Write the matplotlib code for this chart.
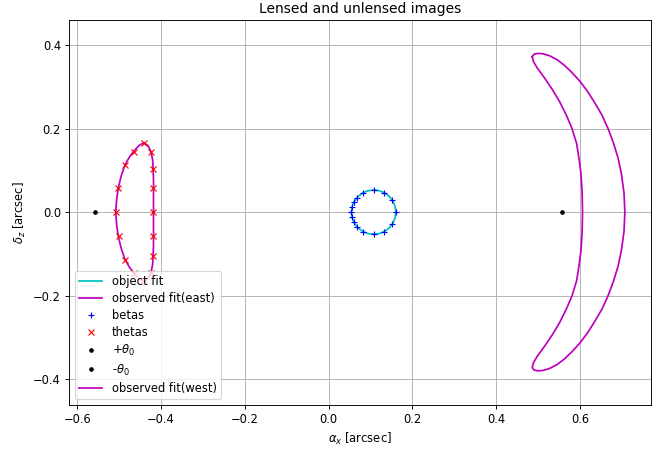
import matplotlib
matplotlib.use("Agg")
import matplotlib.pyplot as plt

# source circle (object fit)
obj_x = [0.1605, 0.1587, 0.1534, 0.1450, 0.1340, 0.1212, 0.1075, 0.0938, 0.0810,
         0.0700, 0.0616, 0.0563, 0.0545, 0.0563, 0.0616, 0.0700, 0.0810, 0.0938,
         0.1075, 0.1212, 0.1340, 0.1450, 0.1534, 0.1587, 0.1605]
obj_y = [0.0, 0.0137, 0.0265, 0.0375, 0.0459, 0.0512, 0.0530, 0.0512, 0.0459,
         0.0375, 0.0265, 0.0137, 0.0, -0.0137, -0.0265, -0.0375, -0.0459, -0.0512,
         -0.0530, -0.0512, -0.0459, -0.0375, -0.0265, -0.0137, 0.0]

# east image outline
east_x = [-0.418, -0.418, -0.418, -0.418, -0.419, -0.420, -0.424, -0.431, -0.441,
          -0.452, -0.465, -0.476, -0.486, -0.495, -0.502, -0.506, -0.508,
          -0.506, -0.502, -0.495, -0.486, -0.476, -0.465, -0.452, -0.441,
          -0.431, -0.424, -0.420, -0.419, -0.418, -0.418, -0.418, -0.418]
east_y = [0.0, 0.030, 0.058, 0.080, 0.104, 0.125, 0.145, 0.159, 0.166,
          0.160, 0.146, 0.131, 0.113, 0.087, 0.058, 0.030, 0.0,
          -0.030, -0.058, -0.087, -0.113, -0.131, -0.146, -0.160, -0.166,
          -0.159, -0.145, -0.125, -0.104, -0.080, -0.058, -0.030, 0.0]

# source points
beta_x = [0.1605, 0.1514, 0.1324, 0.1075, 0.0826, 0.0675, 0.0603, 0.0561,
          0.0545, 0.0561, 0.0603, 0.0675, 0.0826, 0.1075, 0.1324, 0.1514]
beta_y = [0.0, 0.0296, 0.0468, 0.0530, 0.0468, 0.0348, 0.0241, 0.0128,
          0.0, -0.0128, -0.0241, -0.0348, -0.0468, -0.0530, -0.0468, -0.0296]

# image points
theta_x = [-0.441, -0.465, -0.424, -0.486, -0.419, -0.502, -0.418, -0.508,
           -0.418, -0.501, -0.419, -0.486, -0.419, -0.465, -0.424, -0.441]
theta_y = [0.165, 0.145, 0.145, 0.114, 0.104, 0.058, 0.058, 0.0,
           0.0, -0.058, -0.058, -0.114, -0.104, -0.145, -0.145, -0.165]

theta0 = 0.557

# west image outline (outer edge top->bottom, then inner edge bottom->top)
west_x = [0.486, 0.490, 0.499, 0.512, 0.528, 0.545, 0.562, 0.580, 0.600, 0.618,
          0.635, 0.652, 0.667, 0.680, 0.691, 0.699, 0.705, 0.707,
          0.705, 0.699, 0.691, 0.680, 0.667, 0.652, 0.635, 0.618, 0.600,
          0.580, 0.562, 0.545, 0.528, 0.512, 0.499, 0.490, 0.486,
          0.489, 0.498, 0.514, 0.533, 0.551, 0.567, 0.581, 0.592, 0.598,
          0.602, 0.605, 0.606,
          0.605, 0.602, 0.598, 0.592, 0.581, 0.567, 0.551, 0.533, 0.514,
          0.498, 0.489, 0.486]
west_y = [0.372, 0.378, 0.380, 0.379, 0.374, 0.365, 0.352, 0.335, 0.313, 0.289,
          0.262, 0.233, 0.200, 0.165, 0.129, 0.090, 0.046, 0.0,
          -0.046, -0.090, -0.129, -0.165, -0.200, -0.233, -0.262, -0.289, -0.313,
          -0.335, -0.352, -0.365, -0.374, -0.379, -0.380, -0.378, -0.372,
          -0.360, -0.345, -0.323, -0.295, -0.265, -0.233, -0.200, -0.164, -0.125,
          -0.095, -0.050, 0.0,
          0.050, 0.095, 0.125, 0.164, 0.200, 0.233, 0.265, 0.295, 0.323,
          0.345, 0.360, 0.372]

dpi = 83
fig = plt.figure(figsize=(665 / dpi, 451 / dpi), dpi=dpi)
ax = fig.add_axes([0.1038, 0.102, 0.8752, 0.8537])

ax.plot(obj_x, obj_y, 'c', label='object fit')
ax.plot(east_x, east_y, 'm', label='observed fit(east)')
ax.plot(beta_x, beta_y, 'b+', label='betas')
ax.plot(theta_x, theta_y, 'rx', label='thetas')
ax.plot([theta0], [0], 'k.', label=r'$+\theta_0$')
ax.plot([-theta0], [0], 'k.', label=r'-$\theta_0$')
ax.plot(west_x, west_y, 'm', label='observed fit(west)')

ax.set_xlim(-0.6196, 0.7695)
ax.set_ylim(-0.4617, 0.460)
ax.set_xlabel(r'$\alpha_x$ [arcsec]')
ax.set_ylabel(r'$\delta_z$ [arcsec]')
ax.set_title('Lensed and unlensed images')
ax.legend(loc='lower left', labelspacing=0.35)
ax.grid(True)

fig.savefig('out.png', dpi=dpi)
